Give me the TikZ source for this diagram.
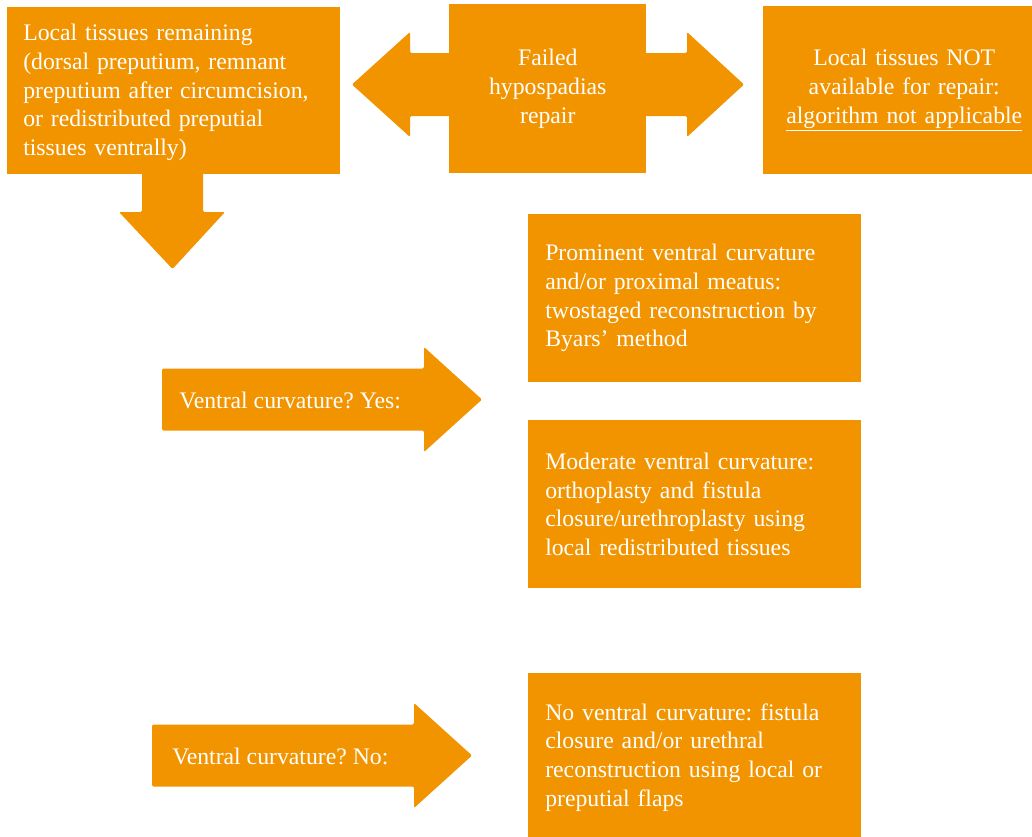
\documentclass[tikz,border=0pt]{standalone}
\usepackage{fontspec}
\setmainfont{Liberation Serif}
\usetikzlibrary{positioning}
\definecolor{boxorange}{RGB}{242,148,0}
\frenchspacing
\begin{document}
\begin{tikzpicture}[x=0.75pt,y=-0.75pt,line join=round,
	box/.style={fill=boxorange,text=white,anchor=north west,inner ysep=0pt,
		minimum height=126pt,font=\fontsize{17.8}{21.5}\selectfont},
	leftbox/.style={box,align=left,inner xsep=12.75pt,text width=224.25pt},
	midbox/.style={box,align=center,inner xsep=0pt,text width=#1},
	label/.style={text=white,anchor=west,inner sep=0pt,font=\fontsize{17.8}{21.5}\selectfont}]
	\useasboundingbox (0,0) rectangle (1032,836);
	\clip (0,0) rectangle (1032,836);
	\newcommand{\drawblockarrow}[2]{
		\begin{scope}[shift={(#1,#2)}]
			% right pointing block arrow
			\fill[boxorange,rounded corners=1pt] (0,-31) -- (262,-31) -- (262,-52.5) -- (320,0) -- (262,52.5) -- (262,31) -- (0,31) -- cycle;
		\end{scope}
	}
	% Top row
	\fill[boxorange,rounded corners=1pt] (352,84.5) -- (410,32) -- (410,53) -- (687,53) -- (687,32) -- (744,84.5) -- (687,137) -- (687,116) -- (410,116) -- (410,137) -- cycle;
	\fill[boxorange,rounded corners=1pt] (142,170) -- (203,170) -- (203,212) -- (225,212) -- (172.5,269) -- (119,212) -- (142,212) -- cycle;
	\node[leftbox,minimum height=125.25pt,inner xsep=12pt,text width=225.75pt] (local) at (7,7)
		{\rule{0pt}{15pt}Local tissues remaining\\(dorsal preputium, remnant\\preputium after circumcision,\\or redistributed preputial\\tissues ventrally)};
	\node[midbox=147.75pt,minimum height=126.75pt] (failed) at (449,4) {Failed\\hypospadias\\repair};
	\node[midbox=211.5pt] (notavail) at (763,6)
		{Local tissues NOT\\available for repair:\\\underline{algorithm not applicable}};
	% Yes
	\drawblockarrow{162}{399.5}
	\node[label] (yes) at (179,400) {Ventral curvature? Yes:};
	\node[leftbox] (prominent) at (528,214)
		{Prominent ventral curvature\\and/or proximal meatus:\\twostaged reconstruction by\\Byars’ method};
	\node[leftbox] (moderate) at (528,420)
		{Moderate ventral curvature:\\orthoplasty and fistula\\closure/urethroplasty using\\local redistributed tissues};
	% No
	\drawblockarrow{152}{755.5}
	\node[label] (no) at (172,756) {Ventral curvature? No:};
	\node[leftbox] (noventral) at (528,673)
		{No ventral curvature: fistula\\closure and/or urethral\\reconstruction using local or\\preputial flaps};
\end{tikzpicture}
\end{document}
